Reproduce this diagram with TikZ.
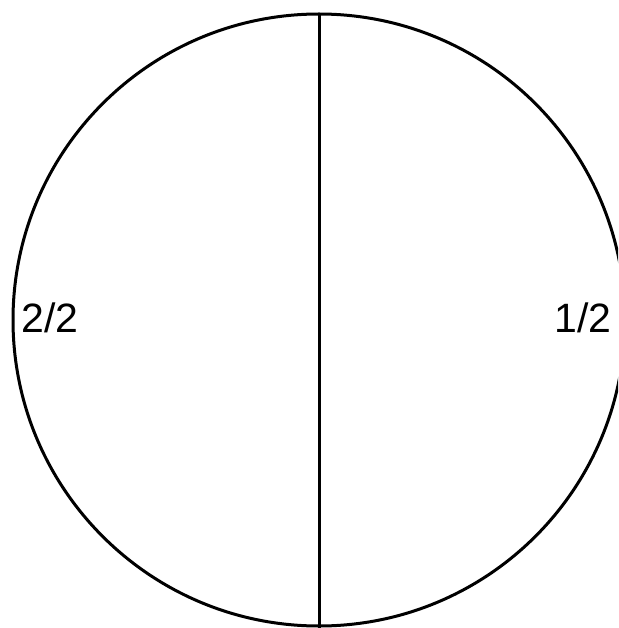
\documentclass[tikz,border=0pt]{standalone}
\usepackage{fontspec}
\setmainfont{Liberation Sans}
\begin{document}
\begin{tikzpicture}[x=1pt,y=-1pt,
  outline/.style={line width=3pt,draw=black},
  lbl/.style={inner sep=0pt,font=\fontsize{41}{41}\selectfont}]
\useasboundingbox (0,0) rectangle (618,628);
\begin{scope}
\clip (0,0) rectangle (618,628);
\node[outline,circle,minimum size=612pt,inner sep=0pt] (c) at (319,320) {};
\coordinate (top) at (319,14);
\coordinate (bot) at (319,628);
\draw[outline] (top) -- (bot);
\end{scope}
\node[lbl] (l) at (50,318) {2/2};
\node[lbl] (r) at (583,318) {1/2};
\end{tikzpicture}
\end{document}
